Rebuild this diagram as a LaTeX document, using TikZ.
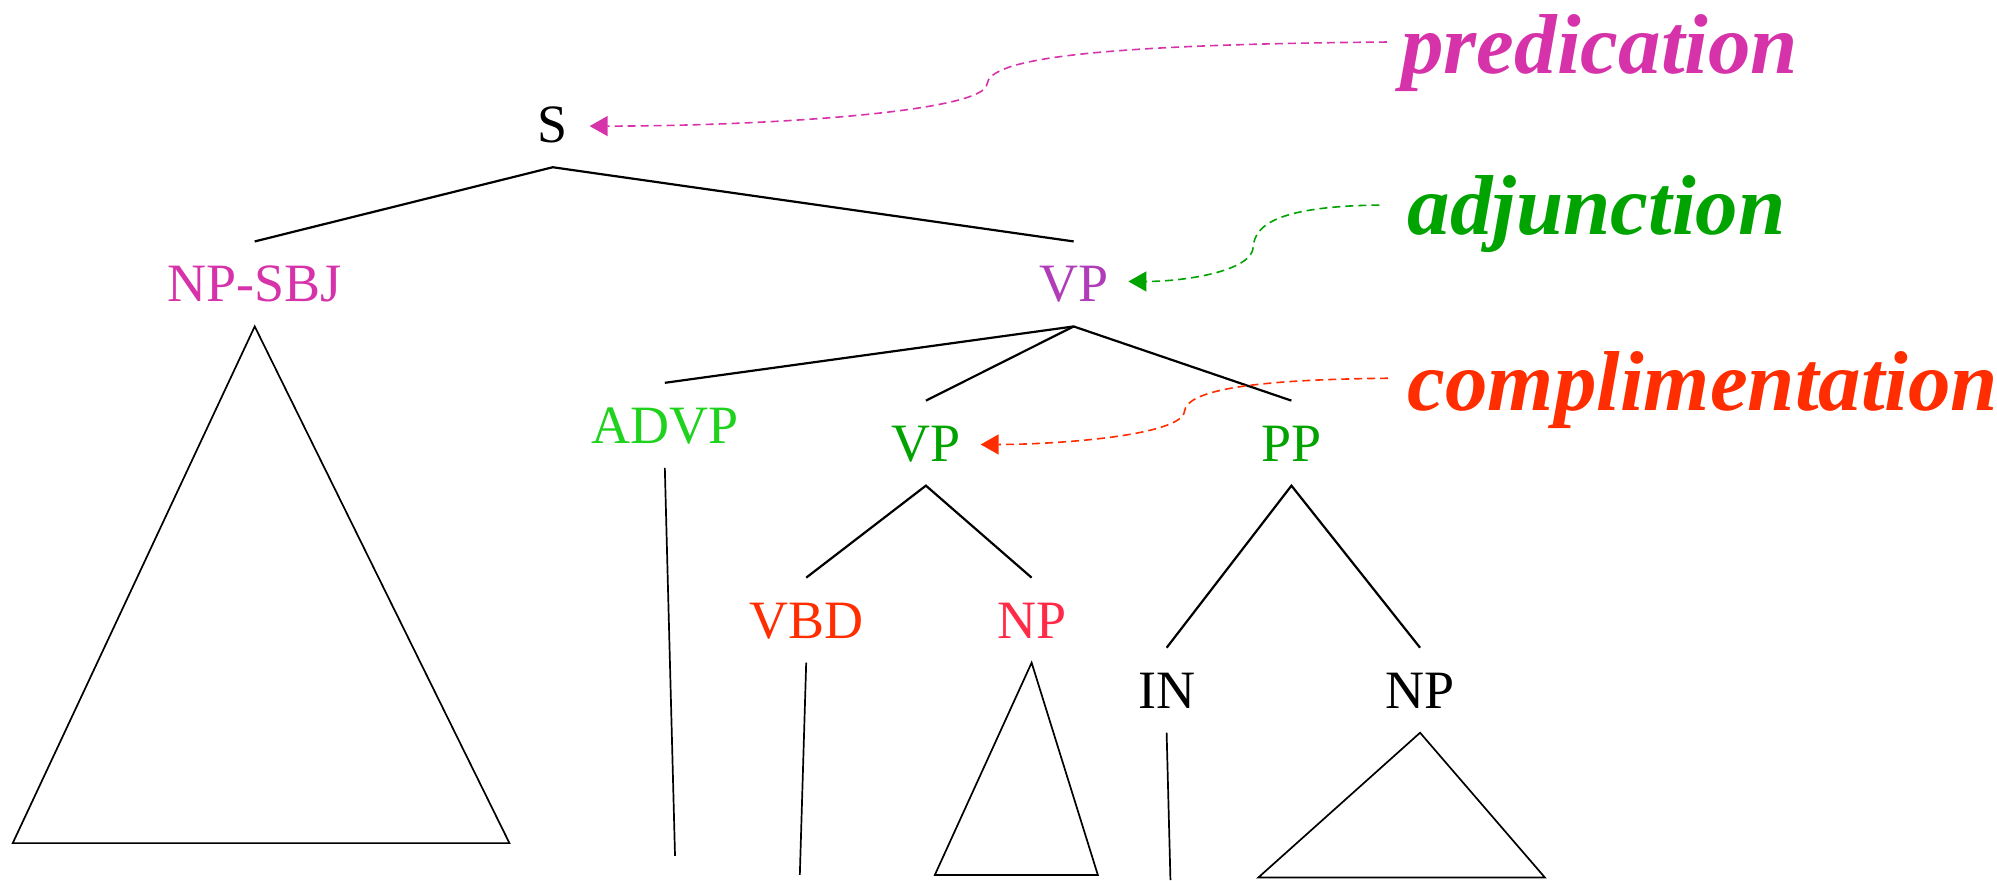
\documentclass[tikz,border=0pt]{standalone}
\usepackage{fontspec}
\setmainfont{Liberation Serif}
\usetikzlibrary{arrows.meta}
\definecolor{cmag}{HTML}{D633AA}
\definecolor{cpur}{HTML}{B03CB8}
\definecolor{cgreen}{HTML}{00A300}
\definecolor{cgreenl}{HTML}{1ED21E}
\definecolor{cred}{HTML}{FF2D00}
\definecolor{cpink}{HTML}{FF2A45}
\tikzset{
  tl/.style={font=\fontsize{27}{30}\selectfont, text height=17.9pt, text depth=0pt, inner xsep=0pt, inner ysep=12.1pt, anchor=base},
  lab/.style={font=\fontsize{42.5}{48}\selectfont\bfseries\itshape, anchor=base west, inner sep=0pt},
  br/.style={draw=black, line width=1.1pt},
  brl/.style={draw=black, line width=0.85pt},
  dasharrow/.style={line width=0.8pt, dash pattern=on 4pt off 2.5pt, -{Triangle[length=9pt,width=10pt]}}
}
\begin{document}
\begin{tikzpicture}[x=0.6368pt, y=-0.6368pt]
\useasboundingbox (0,0) rectangle (1568,691);
% tree labels
\node[tl] (S) at (434,112) {S};
\node[tl, text=cmag] (NPSBJ) at (200,237) {NP-SBJ};
\node[tl, text=cpur] (VP1) at (843,237) {VP};
\node[tl, text=cgreenl] (ADVP) at (522,348) {ADVP};
\node[tl, text=cgreen] (VP2) at (727,362) {VP};
\node[tl, text=cgreen] (PP) at (1014,362) {PP};
\node[tl, text=cred] (VBD) at (633,501) {VBD};
\node[tl, text=cpink] (NP1) at (810,501) {NP};
\node[tl] (IN) at (916,556) {IN};
\node[tl] (NP2) at (1115,556) {NP};
% leaf coordinates
\coordinate (advpend) at (530,672);
\coordinate (vbdend) at (628,687);
\coordinate (inend) at (919,691);
\coordinate (t1l) at (10,662);
\coordinate (t1r) at (400,662);
\coordinate (t2l) at (734,687);
\coordinate (t2r) at (862,687);
\coordinate (t3l) at (988,689);
\coordinate (t3r) at (1213,689);
% branches
\draw[br] (NPSBJ.north) -- (S.south) -- (VP1.north);
\draw[br] (ADVP.north) -- (VP1.south) -- (PP.north);
\draw[br] (VP1.south) -- (VP2.north);
\draw[br] (VBD.north) -- (VP2.south) -- (NP1.north);
\draw[br] (IN.north) -- (PP.south) -- (NP2.north);
\draw[brl] (ADVP.south) -- (advpend);
\draw[brl] (VBD.south) -- (vbdend);
\draw[brl] (IN.south) -- (inend);
\draw[brl] (NPSBJ.south) -- (t1l) -- (t1r) -- cycle;
\draw[brl] (NP1.south) -- (t2l) -- (t2r) -- cycle;
\draw[brl] (NP2.south) -- (t3l) -- (t3r) -- cycle;
% labels
\node[lab, text=cmag] (pred) at (1100,58) {predication};
\node[lab, text=cgreen] (adj) at (1105,184) {adjunction};
\node[lab, text=cred] (comp) at (1105,322) {complimentation};
% arrow endpoints
\coordinate (ps) at (1089,33);
\coordinate (pk) at (775,66);
\coordinate (pt) at (463,99);
\coordinate (as) at (1083,161);
\coordinate (ak) at (984,194);
\coordinate (at) at (886,221);
\coordinate (cs) at (1090,297);
\coordinate (ck) at (930,323);
\coordinate (ct) at (770,349);
\draw[dasharrow, cmag] (ps) .. controls (850,35) and (777,47) .. (pk) .. controls (773,88) and (600,99) .. (pt);
\draw[dasharrow, cgreen] (as) .. controls (1005,162) and (985,176) .. (ak) .. controls (983,213) and (930,221) .. (at);
\draw[dasharrow, cred] (cs) .. controls (985,298) and (932,306) .. (ck) .. controls (928,342) and (830,349) .. (ct);
\end{tikzpicture}
\end{document}
